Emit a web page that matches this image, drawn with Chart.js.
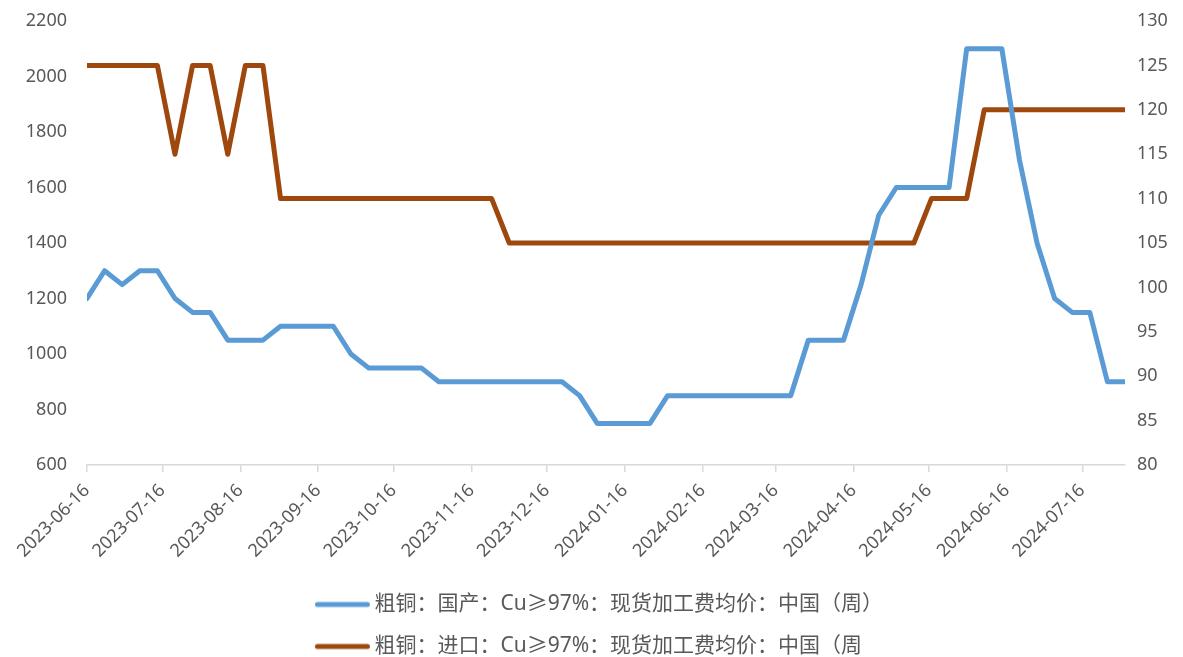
<!DOCTYPE html>
<html>
<head>
<meta charset="utf-8">
<script src="https://cdn.jsdelivr.net/npm/chart.js@4.4.1/dist/chart.umd.min.js"></script>
<style>
  html, body { margin: 0; padding: 0; background: #ffffff; }
  #wrap { width: 1183px; height: 657px; position: relative; }
</style>
</head>
<body>
<div id="wrap"><canvas id="c" width="1183" height="657"></canvas></div>
<script>
// ---- data ----
const dates = [
  '2023-06-16','2023-06-23','2023-06-30','2023-07-07','2023-07-14','2023-07-21','2023-07-28',
  '2023-08-04','2023-08-11','2023-08-18','2023-08-25','2023-09-01','2023-09-08','2023-09-15',
  '2023-09-22','2023-09-29','2023-10-06','2023-10-13','2023-10-20','2023-10-27','2023-11-03',
  '2023-11-10','2023-11-17','2023-11-24','2023-12-01','2023-12-08','2023-12-15','2023-12-22',
  '2023-12-29','2024-01-05','2024-01-12','2024-01-19','2024-01-26','2024-02-02','2024-02-09',
  '2024-02-16','2024-02-23','2024-03-01','2024-03-08','2024-03-15','2024-03-22','2024-03-29',
  '2024-04-05','2024-04-12','2024-04-19','2024-04-26','2024-05-03','2024-05-10','2024-05-17',
  '2024-05-24','2024-05-31','2024-06-07','2024-06-14','2024-06-21','2024-06-28','2024-07-05',
  '2024-07-12','2024-07-19','2024-07-26','2024-08-02'
];
const domesticFee = [
  1200,1300,1250,1300,1300,1200,1150,1150,1050,1050,
  1050,1100,1100,1100,1100,1000,950,950,950,950,
  900,900,900,900,900,900,900,900,850,750,
  750,750,750,850,850,850,850,850,850,850,
  850,1050,1050,1050,1250,1500,1600,1600,1600,1600,
  2100,2100,2100,1700,1400,1200,1150,1150,900,900
];
const importFee = [
  125,125,125,125,125,115,125,125,115,125,
  125,110,110,110,110,110,110,110,110,110,
  110,110,110,110,105,105,105,105,105,105,
  105,105,105,105,105,105,105,105,105,105,
  105,105,105,105,105,105,105,105,110,110,
  110,120,120,120,120,120,120,120,120,120
];
const xTickLabels = [
  '2023-06-16','2023-07-16','2023-08-16','2023-09-16','2023-10-16','2023-11-16','2023-12-16',
  '2024-01-16','2024-02-16','2024-03-16','2024-04-16','2024-05-16','2024-06-16','2024-07-16'
];
const leftTicks = [600, 800, 1000, 1200, 1400, 1600, 1800, 2000, 2200];
const rightTicks = [80, 85, 90, 95, 100, 105, 110, 115, 120, 125, 130];
const seriesNames = [
  '粗铜：国产：Cu≥97%：现货加工费均价：中国（周）',
  '粗铜：进口：Cu≥97%：现货加工费均价：中国（周'
];
const seriesColors = ['#5B9BD5', '#9E480E'];

// ---- helpers ----
function dayNum(s) {
  const p = s.split('-').map(Number);
  return Date.UTC(p[0], p[1] - 1, p[2]) / 86400000;
}
const base = dayNum(dates[0]);
const off = s => dayNum(s) - base;
const tickMap = {};
xTickLabels.forEach(s => { tickMap[off(s)] = s; });

const textColor = '#595959';
const axisGrey = '#d9d9d9';
const tickFont = { family: "'Noto Sans', 'Open Sans', sans-serif", size: 18 };

// legend swatch: a short thick line, shifted so it sits close to the text
function legendSwatch(color) {
  const c = document.createElement('canvas');
  c.width = 120; c.height = 10;
  const g = c.getContext('2d');
  g.strokeStyle = color;
  g.lineWidth = 5;
  g.lineCap = 'round';
  g.beginPath();
  g.moveTo(39.5, 5);
  g.lineTo(89.5, 5);
  g.stroke();
  return c;
}

// one legend item per row, rows left-aligned to the first (widest) row
const legendRows = {
  id: 'legendRows',
  beforeLayout(chart) {
    const lg = chart.legend;
    if (lg && !lg._rowsPatched) {
      const orig = lg._fitRows;
      lg._fitRows = function (...args) {
        const mw = this.maxWidth;
        this.maxWidth = 700;
        const h = orig.apply(this, args);
        this.maxWidth = mw;
        const w0 = Math.max(...this.lineWidths) - 12;
        this.lineWidths = this.lineWidths.map(() => w0);
        return h - 10;
      };
      lg._rowsPatched = true;
    }
  }
};

function noVPad(scale) {
  scale.paddingTop = 0;
  scale.paddingBottom = 0;
}

new Chart(document.getElementById('c'), {
  type: 'line',
  data: {
    datasets: [
      {
        label: seriesNames[0],
        data: dates.map((d, i) => ({ x: off(d), y: domesticFee[i] })),
        yAxisID: 'y',
        borderColor: seriesColors[0],
        backgroundColor: seriesColors[0],
        borderWidth: 5,
        borderCapStyle: 'round',
        borderJoinStyle: 'round',
        pointRadius: 0,
        pointStyle: legendSwatch(seriesColors[0]),
        tension: 0
      },
      {
        label: seriesNames[1],
        data: dates.map((d, i) => ({ x: off(d), y: importFee[i] })),
        yAxisID: 'y1',
        borderColor: seriesColors[1],
        backgroundColor: seriesColors[1],
        borderWidth: 5,
        borderCapStyle: 'round',
        borderJoinStyle: 'round',
        pointRadius: 0,
        pointStyle: legendSwatch(seriesColors[1]),
        tension: 0
      }
    ]
  },
  options: {
    responsive: false,
    animation: false,
    devicePixelRatio: 1,
    layout: { padding: { top: 21, left: 0, right: 0, bottom: 0 } },
    plugins: {
      legend: {
        position: 'bottom',
        labels: {
          usePointStyle: true,
          pointStyleWidth: 52,
          padding: 21,
          color: textColor,
          font: { family: "'Noto Sans', 'Noto Sans CJK SC', sans-serif", size: 21 }
        }
      },
      tooltip: { enabled: false }
    },
    scales: {
      x: {
        type: 'linear',
        min: 0,
        max: off(dates[dates.length - 1]),
        afterBuildTicks(scale) {
          scale.ticks = xTickLabels.map(s => ({ value: off(s) }));
        },
        afterFit(scale) { scale.height = 108; },
        ticks: {
          autoSkip: false,
          minRotation: 45,
          maxRotation: 45,
          padding: 8,
          color: textColor,
          font: tickFont,
          callback: v => tickMap[v] || ''
        },
        grid: {
          drawOnChartArea: false,
          drawTicks: true,
          tickLength: 7,
          color: axisGrey,
          lineWidth: 1.5
        },
        border: { display: true, color: axisGrey, width: 1.5 }
      },
      y: {
        position: 'left',
        min: 600,
        max: 2200,
        afterBuildTicks(scale) { scale.ticks = leftTicks.map(v => ({ value: v })); },
        afterFit(scale) { scale.width = 87; noVPad(scale); },
        ticks: { color: textColor, font: tickFont, padding: 20, callback: v => String(v) },
        grid: { display: false, drawTicks: false },
        border: { display: false }
      },
      y1: {
        position: 'right',
        min: 80,
        max: 130,
        afterBuildTicks(scale) { scale.ticks = rightTicks.map(v => ({ value: v })); },
        afterFit(scale) { scale.width = 58; noVPad(scale); },
        ticks: { color: textColor, font: tickFont, padding: 12, callback: v => String(v) },
        grid: { display: false, drawTicks: false },
        border: { display: false }
      }
    }
  },
  plugins: [legendRows]
});
</script>
</body>
</html>
